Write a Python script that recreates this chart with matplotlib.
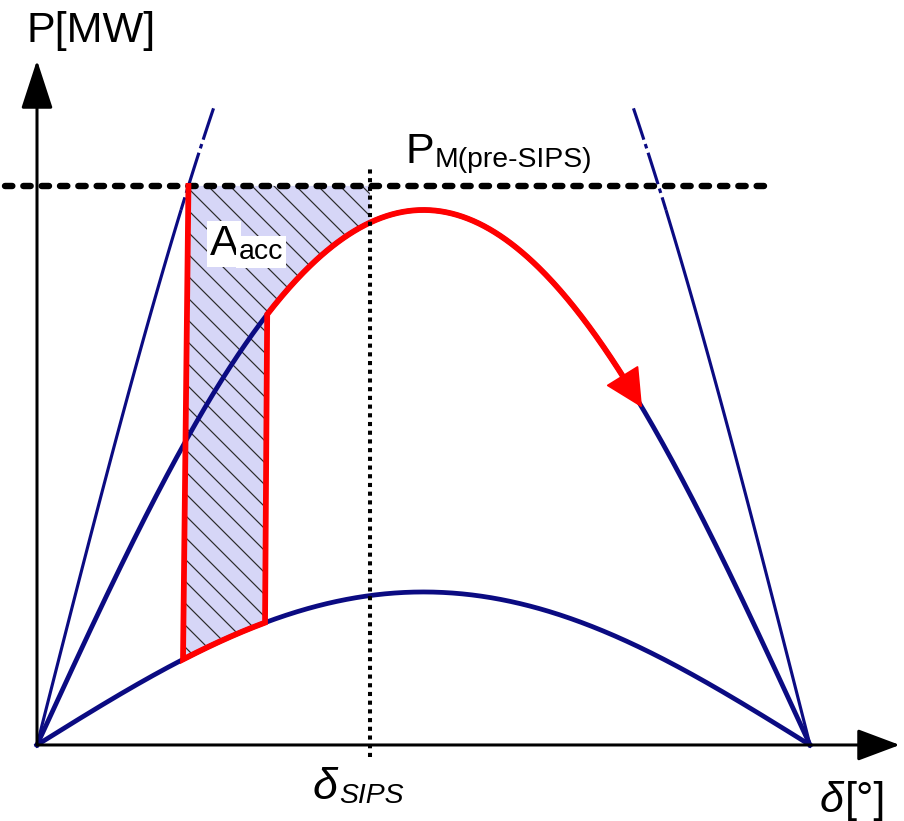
import numpy as np
import matplotlib.pyplot as plt

plt.rcParams["font.family"] = ["Liberation Sans", "DejaVu Sans"]
plt.rcParams["lines.scale_dashes"] = False
plt.rcParams["hatch.linewidth"] = 1.3

# Power-angle curves, P in p.u. of the post-SIPS peak, delta in degrees
pmax_pre = 1.81       # intact network
pmax_post = 1.0       # network after SIPS action
pmax_fault = 0.286    # faulted network
pm_pre_sips = 1.045   # mechanical power before SIPS

delta_clear = 34.0            # fault clearing angle
delta_switch = (53.1, 53.6)   # jump from fault curve to post-SIPS curve
delta_sips = 77.5             # SIPS operating angle
delta_end = 140.9             # end of the swing arrow
p_pre_solid = 1.0             # intact-network branches turn dash-dot here
p_pre_top = 1.19              # and stop here

NAVY = "#0b0b82"
RED = "#ff0000"
DPI = 66


def p_curve(pmax, d):
    return pmax * np.sin(np.radians(d))


fig = plt.figure(figsize=(904 / DPI, 821 / DPI), dpi=DPI)
ax = fig.add_axes([0, 0, 1, 1])
ax.set_xlim(-8.616, 201.89)
ax.set_ylim(-0.1421, 1.3925)
ax.axis("off")

delta = np.linspace(0, 180, 721)

# accelerating area between fault/post-SIPS curves and Pm
d_top = np.degrees(np.arcsin(pm_pre_sips / pmax_pre))
d_up = np.linspace(delta_switch[1], delta_sips, 60)
d_low = np.linspace(delta_clear, delta_switch[0], 30)
area_x = np.concatenate([[d_top, delta_sips], d_up[::-1], d_low[::-1]])
area_y = np.concatenate([[pm_pre_sips, pm_pre_sips],
                         p_curve(pmax_post, d_up[::-1]),
                         p_curve(pmax_fault, d_low[::-1])])
ax.fill(area_x, area_y, facecolor="#d6d6f7", edgecolor="#2a2a2a",
        linewidth=0, hatch="\\", zorder=1)

# fault and post-SIPS curves
ax.plot(delta, p_curve(pmax_post, delta), color=NAVY, lw=5.2, zorder=2)
ax.plot(delta, p_curve(pmax_fault, delta), color=NAVY, lw=5.2, zorder=2)

# intact-network curve, only its two flanks
d_solid = np.degrees(np.arcsin(p_pre_solid / pmax_pre))
d_end = np.degrees(np.arcsin(p_pre_top / pmax_pre))
d_a = np.linspace(0, d_solid, 50)
d_b = np.linspace(d_end, d_solid, 30)
for side in (lambda d: d, lambda d: 180 - d):
    ax.plot(side(d_a), p_curve(pmax_pre, d_a), color=NAVY, lw=3.4,
            solid_capstyle="butt", zorder=2)
    ax.plot(side(d_b), p_curve(pmax_pre, d_b), color=NAVY, lw=3.4,
            dashes=(36, 5, 5, 5), dash_capstyle="butt", zorder=2)

# Pm before SIPS
ax.plot([-7.45, 170.7], [pm_pre_sips, pm_pre_sips], color="black", lw=7,
        dashes=(8, 12), dash_capstyle="round", zorder=3)

# operating trajectory
d_swing = np.linspace(delta_switch[1], delta_end - 3.5, 200)
traj_x = np.concatenate([[d_top], d_low, d_swing])
traj_y = np.concatenate([[pm_pre_sips], p_curve(pmax_fault, d_low),
                         p_curve(pmax_post, d_swing)])
ax.plot(traj_x, traj_y, color=RED, lw=6.3, solid_joinstyle="miter", zorder=4)
ax.annotate("", xy=(delta_end, p_curve(pmax_post, delta_end)),
            xytext=(delta_end - 6, p_curve(pmax_post, delta_end - 6)),
            arrowprops=dict(arrowstyle="-|>,head_length=3.8,head_width=1.9",
                            mutation_scale=10, color=RED, lw=2,
                            shrinkA=0, shrinkB=0),
            zorder=4)

# SIPS angle marker
ax.plot([delta_sips, delta_sips], [-0.022, 1.084], color="black", lw=4.4,
        dashes=(4.5, 5.0), dash_capstyle="butt", zorder=5)

# axes with arrow heads
ax.annotate("", xy=(0, 1.280), xytext=(0, 0),
            arrowprops=dict(arrowstyle="-|>,head_length=4.6,head_width=1.5",
                            mutation_scale=10, color="black", lw=3.3,
                            shrinkA=0, shrinkB=0), zorder=5)
ax.annotate("", xy=(200.9, 0), xytext=(0, 0),
            arrowprops=dict(arrowstyle="-|>,head_length=4.0,head_width=1.5",
                            mutation_scale=10, color="black", lw=3.3,
                            shrinkA=0, shrinkB=0), zorder=5)

BIG = 47
SMALL = 31

ax.text(-2.33, 1.314, "P[MW]", fontsize=BIG, ha="left", va="baseline",
        zorder=6)

t = ax.text(85.7, 1.088, "P", fontsize=BIG, ha="left", va="baseline",
            zorder=6)
ax.annotate("M(pre-SIPS)", xy=(1, 0), xycoords=t, xytext=(1, -1),
            textcoords="offset points", fontsize=SMALL, ha="left",
            va="bottom", zorder=6)

box = dict(facecolor="white", edgecolor="none", pad=3)
t = ax.text(40.3, 0.916, "A", fontsize=BIG, ha="left", va="baseline",
            bbox=box, zorder=6)
ax.annotate("acc", xy=(1, 0), xycoords=t, xytext=(0, -1),
            textcoords="offset points", fontsize=SMALL, ha="left",
            va="bottom", bbox=box, zorder=6)

t = ax.annotate("δ", xy=(delta_sips, 0), xytext=(-62, -59),
                textcoords="offset points", fontsize=BIG + 2, style="italic",
                ha="left", va="baseline", zorder=6)
ax.annotate("SIPS", xy=(1, 0), xycoords=t, xytext=(1, -1),
            textcoords="offset points", fontsize=SMALL, style="italic",
            ha="left", va="bottom", zorder=6)

t = ax.text(182.3, -0.125, "δ", fontsize=BIG, style="italic", ha="left",
            va="baseline", zorder=6)
ax.annotate("[°]", xy=(1, 0), xycoords=t, xytext=(1, 0),
            textcoords="offset points", fontsize=BIG, ha="left",
            va="bottom", zorder=6)

fig.savefig("out.png", dpi=DPI)
